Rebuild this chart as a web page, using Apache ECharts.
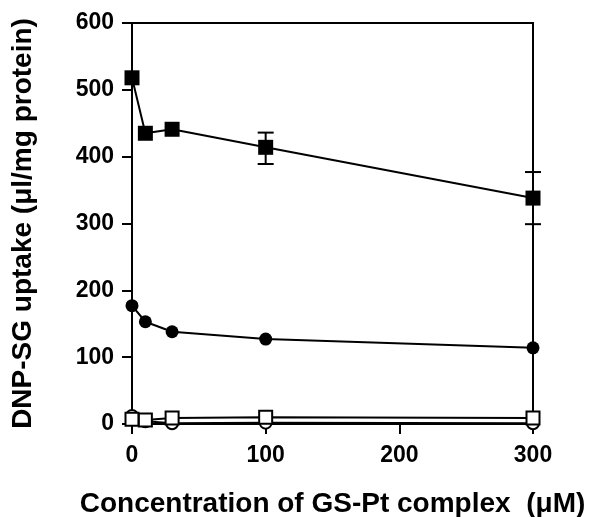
<!DOCTYPE html>
<html>
<head>
<meta charset="utf-8">
<script src="https://cdn.jsdelivr.net/npm/echarts@6/dist/echarts.min.js"></script>
<style>
    html, body { margin: 0; padding: 0; background: #fff; }
    #chart { width: 592px; height: 517px; }
</style>
</head>
<body>
<div id="chart"></div>
<script>
    // concentration of GS-Pt complex (uM)
    var conc = [0, 10, 30, 100, 300];
    var filledSquare = [518, 435, 441, 414, 338];
    var filledCircle = [177, 153, 138, 127, 114];
    var openSquare = [7, 6, 9, 10, 9];
    var openCircle = [12, 4, 1, 2, 1];
    // error bars on filled squares: [x, low, high]
    var squareErr = [[100, 389, 436], [300, 299, 377]];

    var chart = echarts.init(document.getElementById('chart'));
    var font = 'Liberation Sans, Arial, sans-serif';

    function pairs(ys) {
        return conc.map(function (x, i) { return [x, ys[i]]; });
    }

    var option = {
        animation: false,
        grid: {
            left: 132, right: 59, top: 23, bottom: 93,
            outerBoundsMode: 'none',
            show: true, borderColor: '#000', borderWidth: 2
        },
        xAxis: {
            type: 'value', min: 0, max: 300, interval: 100,
            axisLine: { show: true, onZero: false, lineStyle: { color: '#000', width: 2 } },
            axisTick: { show: true, length: 10, lineStyle: { color: '#000', width: 2 } },
            axisLabel: { color: '#000', fontFamily: font, fontWeight: 'bold', fontSize: 23, margin: 20 },
            splitLine: { show: false },
            name: 'Concentration of GS-Pt complex  (\u03bcM)',
            nameLocation: 'middle', nameGap: 66,
            nameTextStyle: { color: '#000', fontFamily: font, fontWeight: 'bold', fontSize: 28 }
        },
        yAxis: {
            type: 'value', min: 0, max: 600, interval: 100,
            axisLine: { show: true, lineStyle: { color: '#000', width: 2 } },
            axisTick: { show: true, length: 10, lineStyle: { color: '#000', width: 2 } },
            axisLabel: { color: '#000', fontFamily: font, fontWeight: 'bold', fontSize: 23, margin: 18 },
            splitLine: { show: false },
            name: 'DNP-SG uptake (\u03bcl/mg protein)',
            nameLocation: 'middle', nameGap: 95,
            nameTextStyle: { color: '#000', fontFamily: font, fontWeight: 'bold', fontSize: 28 }
        },
        series: [
            {
                type: 'line', data: pairs(openCircle), symbol: 'circle', symbolSize: 12,
                lineStyle: { color: '#000', width: 2 },
                itemStyle: { color: '#fff', borderColor: '#000', borderWidth: 2 }, z: 2
            },
            {
                type: 'line', data: pairs(openSquare), symbol: 'rect', symbolSize: 13,
                lineStyle: { color: '#000', width: 2 },
                itemStyle: { color: '#fff', borderColor: '#000', borderWidth: 2 }, z: 3
            },
            {
                type: 'line', data: pairs(filledCircle), symbol: 'circle', symbolSize: 13,
                lineStyle: { color: '#000', width: 2 },
                itemStyle: { color: '#000' }, z: 3
            },
            {
                type: 'custom', data: squareErr, z: 3,
                renderItem: function (params, api) {
                    var lo = api.coord([api.value(0), api.value(1)]);
                    var hi = api.coord([api.value(0), api.value(2)]);
                    var w = 8;
                    var st = { stroke: '#000', lineWidth: 2 };
                    return {
                        type: 'group',
                        children: [
                            { type: 'line', shape: { x1: lo[0], y1: lo[1], x2: hi[0], y2: hi[1] }, style: st },
                            { type: 'line', shape: { x1: lo[0] - w, y1: lo[1], x2: lo[0] + w, y2: lo[1] }, style: st },
                            { type: 'line', shape: { x1: hi[0] - w, y1: hi[1], x2: hi[0] + w, y2: hi[1] }, style: st }
                        ]
                    };
                }
            },
            {
                type: 'line', data: pairs(filledSquare), symbol: 'rect', symbolSize: 15,
                lineStyle: { color: '#000', width: 2 },
                itemStyle: { color: '#000' }, z: 4
            }
        ]
    };
    chart.setOption(option);
</script>
</body>
</html>
